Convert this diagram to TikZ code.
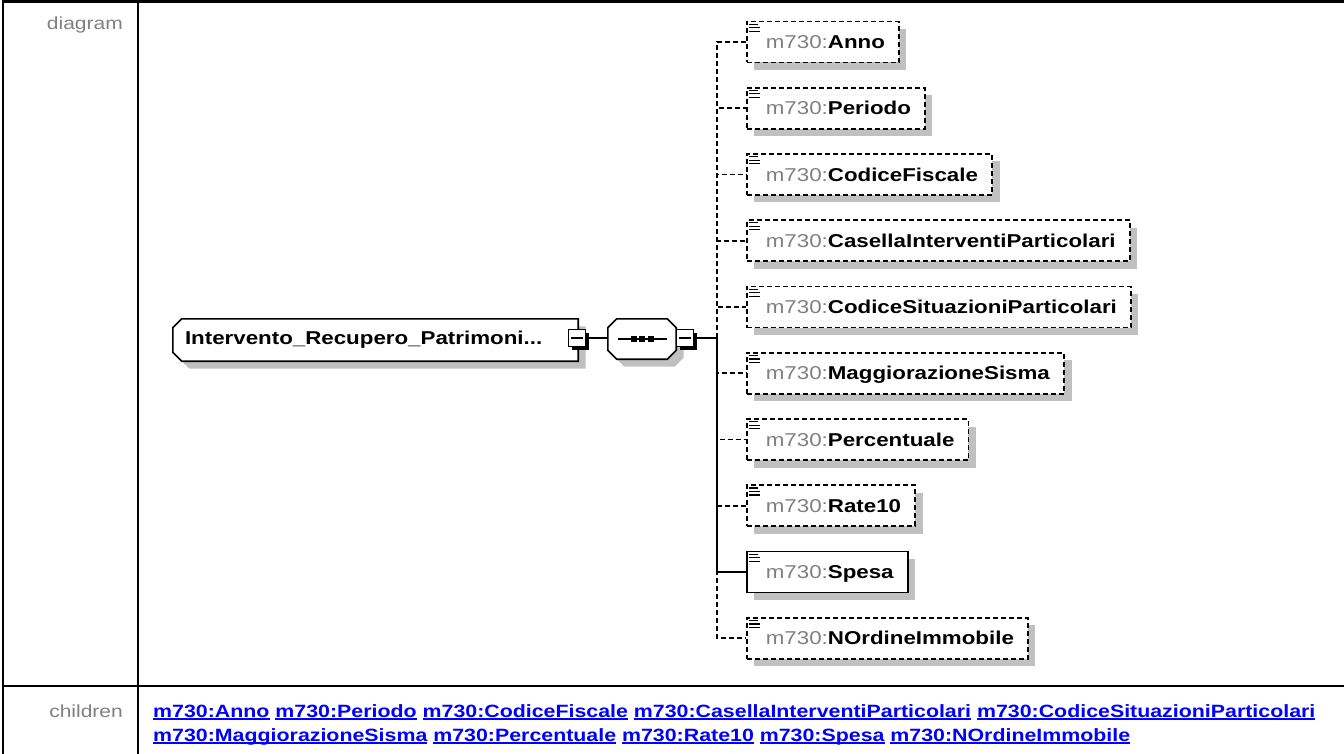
\documentclass[tikz,border=0pt]{standalone}
\usepackage{fontspec}
\setmainfont{Liberation Sans}[FakeStretch=1.2]
\usepackage{tikz}
\usetikzlibrary{positioning, shadows, backgrounds}

\definecolor{shadowgray}{HTML}{C0C0C0}
\definecolor{prefixgray}{HTML}{808080}
\definecolor{linkblue}{HTML}{0000FF}

\newcommand{\pfx}{{\color{prefixgray}m730:}}
\newcommand{\lnk}[1]{\setbox0\hbox{m730:#1}\rlap{\copy0}\vrule width\wd0 height -1.2pt depth 2.9pt\relax}

\begin{document}
\begin{tikzpicture}[
    x=1pt, y=-1pt,
    tableline/.style={line width=2.5pt},
    labeltext/.style={font=\fontsize{17.5}{21}\selectfont, text=prefixgray, inner sep=0pt},
    linktext/.style={font=\fontsize{17.8}{21}\selectfont\bfseries, text=linkblue, inner sep=0pt},
    boxshadow/.style={drop shadow={shadow xshift=7.5pt, shadow yshift=-7.5pt, fill=shadowgray, opacity=1}},
    outline/.style={draw, fill=white, line width=1.6pt, boxshadow},
    minus/.style={draw, fill=white, line width=1.5pt, minimum size=17pt, inner sep=0pt,
        drop shadow={shadow xshift=3pt, shadow yshift=-3pt, fill=black, opacity=1}},
    child/.style={draw, fill=white, line width=1.7pt, anchor=west, minimum height=41pt,
        inner xsep=14pt, inner ysep=0pt, text height=13.3pt, text depth=0pt,
        font=\fontsize{18.6}{22}\selectfont, boxshadow},
    optional/.style={dash pattern=on 5pt off 3pt},
    required/.style={solid},
    conn/.style={line width=1.7pt}
]

% Page and table frame
\useasboundingbox (0,0) rectangle (1344,754);
\draw[tableline] (1344,1.5) -- (3,1.5) -- (3,754);
\draw[tableline] (138,1.5) -- (138,754);
\draw[tableline] (3,686) -- (1344,686);

% Row labels
\node[labeltext, anchor=base east] (diaglabel) at (123,30) {diagram};
\node[labeltext, anchor=base east] (childlabel) at (123,717) {children};

% Element, cut on its left corners
\node[minimum width=405pt, minimum height=42pt, text width=381pt, align=left,
    inner xsep=12pt, inner ysep=0pt, font=\fontsize{18.6}{22}\selectfont\bfseries]
    (elem) at (375.5,340) {Intervento\_Recupero\_Patrimoni...};
\node[minus] (m1) at (577,338) {};
\draw[line width=1.5pt] ([xshift=3pt]m1.west) -- ([xshift=-3pt]m1.east);

% Sequence compositor
\node[minimum width=68pt, minimum height=40pt, inner sep=0pt] (seq) at (642,339) {};
\draw[conn] ([xshift=10pt]seq.west) -- ([xshift=-9pt]seq.east);
\foreach \dx in {-8.5, 0, 8.5}
    \fill ([shift={(\dx pt-3pt,-3pt)}]seq.center) rectangle +(6,-6);
\draw[conn] (m1.east) -- (m1.east -| seq.west);

\node[minus] (m2) at (685,338) {};
\draw[line width=1.5pt] ([xshift=3pt]m2.west) -- ([xshift=-3pt]m2.east);

\begin{scope}[on background layer]
    \draw[outline] ([xshift=9pt]elem.north west) -- (elem.north east) -- (elem.south east)
        -- ([xshift=9pt]elem.south west) -- ([yshift=9pt]elem.south west)
        -- ([yshift=-9pt]elem.north west) -- cycle;
    \draw[outline] ([xshift=9pt]seq.north west) -- ([xshift=-9pt]seq.north east)
        -- ([yshift=-9pt]seq.north east) -- ([yshift=9pt]seq.south east)
        -- ([xshift=-9pt]seq.south east) -- ([xshift=9pt]seq.south west)
        -- ([yshift=9pt]seq.south west) -- ([yshift=-9pt]seq.north west) -- cycle;
\end{scope}

\coordinate (hub) at (717,338);
\draw[conn] (m2.east) -- (hub);

% Children of the sequence
\foreach \kind/\name [count=\i] in {optional/Anno, optional/Periodo, optional/CodiceFiscale,
    optional/CasellaInterventiParticolari, optional/CodiceSituazioniParticolari,
    optional/MaggiorazioneSisma, optional/Percentuale, optional/Rate10,
    required/Spesa, optional/NOrdineImmobile}
{
    \node[child, \kind] (c\i) at (746, {42+66.25*(\i-1)}) {\hspace*{5pt}\pfx\textbf{\name}};
    \draw[conn, \kind] (hub) |- (c\i.west);
    \draw[line width=1.2pt] ([shift={(3pt,-3.5pt)}]c\i.north west) -- +(9pt,0pt)
        ([shift={(3pt,-7pt)}]c\i.north west) -- +(11pt,0pt)
        ([shift={(3pt,-10.5pt)}]c\i.north west) -- +(11pt,0pt);
}

% Links to the children
\node[linktext, anchor=base west] (links1) at (153,717)
    {\lnk{Anno} \lnk{Periodo} \lnk{CodiceFiscale} \lnk{CasellaInterventiParticolari} \lnk{CodiceSituazioniParticolari}};
\node[linktext, anchor=base west] (links2) at (153,741)
    {\lnk{MaggiorazioneSisma} \lnk{Percentuale} \lnk{Rate10} \lnk{Spesa} \lnk{NOrdineImmobile}};

\end{tikzpicture}
\end{document}
